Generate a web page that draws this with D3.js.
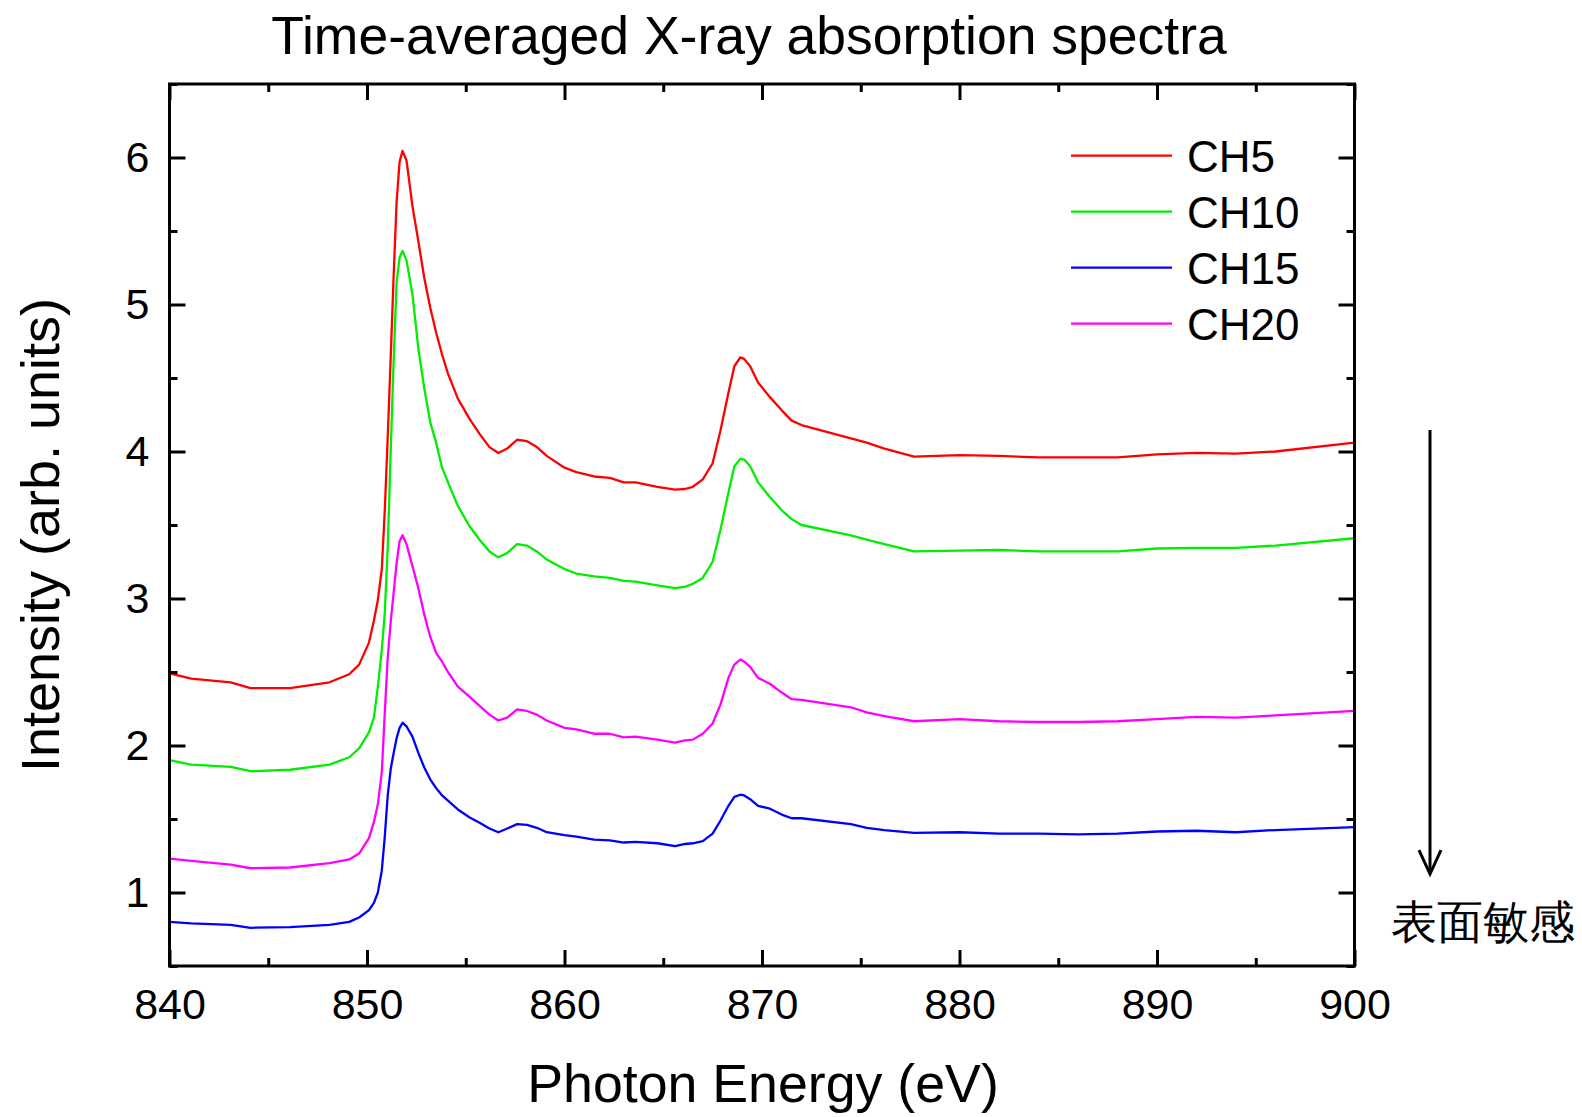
<!DOCTYPE html>
<html>
<head>
<meta charset="utf-8">
<script src="https://cdn.jsdelivr.net/npm/d3@7"></script>
<style>
  html, body { margin: 0; padding: 0; background: #fff; }
  svg { display: block; }
  text { font-family: "Liberation Sans", Arial, sans-serif; fill: #000; }
</style>
</head>
<body>
<svg id="chart" width="1582" height="1117"></svg>
<script>
// ---------------- data ----------------
const energy = [840, 841.1, 843.1, 844.1, 846.1, 848.1, 849.1, 849.6, 850.1, 850.35, 850.55, 850.75, 850.9, 851.05, 851.2, 851.35, 851.5, 851.65, 851.8, 852.0, 852.3, 852.6, 852.9, 853.2, 853.5, 853.8, 854.1, 854.6, 855.2, 855.7, 856.2, 856.65, 857.1, 857.6, 858.1, 858.6, 859.1, 860.0, 860.6, 861.5, 862.3, 863.0, 863.6, 864.7, 865.6, 866.1, 866.5, 867.0, 867.5, 867.9, 868.3, 868.6, 868.9, 869.1, 869.4, 869.8, 870.4, 871.0, 871.5, 872.0, 874.5, 875.3, 876.2, 877.7, 880.0, 882.0, 884.0, 886.0, 888.0, 890.0, 892.0, 894.0, 896.0, 900.0];

const ch5 = [2.49, 2.455, 2.43, 2.39, 2.39, 2.43, 2.485, 2.55, 2.70, 2.85, 2.99, 3.20, 3.60, 4.10, 4.64, 5.20, 5.70, 5.97, 6.045, 5.98, 5.67, 5.43, 5.18, 4.98, 4.81, 4.66, 4.53, 4.36, 4.22, 4.12, 4.03, 3.99, 4.02, 4.08, 4.07, 4.03, 3.97, 3.89, 3.86, 3.83, 3.82, 3.79, 3.79, 3.76, 3.74, 3.745, 3.76, 3.81, 3.92, 4.145, 4.40, 4.58, 4.64, 4.63, 4.58, 4.47, 4.37, 4.28, 4.21, 4.18, 4.09, 4.06, 4.02, 3.965, 3.975, 3.97, 3.96, 3.96, 3.96, 3.98, 3.99, 3.985, 4.00, 4.06];

const ch10 = [1.90, 1.87, 1.855, 1.825, 1.835, 1.87, 1.92, 1.98, 2.09, 2.19, 2.40, 2.65, 2.90, 3.35, 4.00, 4.62, 5.15, 5.32, 5.365, 5.30, 5.07, 4.70, 4.43, 4.20, 4.06, 3.89, 3.79, 3.63, 3.49, 3.40, 3.32, 3.28, 3.31, 3.37, 3.36, 3.32, 3.265, 3.20, 3.17, 3.15, 3.14, 3.12, 3.115, 3.09, 3.07, 3.08, 3.10, 3.14, 3.25, 3.47, 3.72, 3.90, 3.95, 3.945, 3.90, 3.79, 3.69, 3.60, 3.54, 3.50, 3.43, 3.40, 3.37, 3.32, 3.325, 3.33, 3.32, 3.32, 3.32, 3.34, 3.345, 3.345, 3.36, 3.41];

const ch15 = [0.80, 0.79, 0.78, 0.76, 0.765, 0.78, 0.80, 0.83, 0.88, 0.93, 1.00, 1.15, 1.38, 1.66, 1.84, 1.95, 2.05, 2.12, 2.155, 2.13, 2.06, 1.95, 1.85, 1.77, 1.71, 1.66, 1.625, 1.565, 1.51, 1.475, 1.435, 1.41, 1.435, 1.465, 1.46, 1.44, 1.41, 1.39, 1.38, 1.36, 1.355, 1.34, 1.345, 1.335, 1.315, 1.33, 1.335, 1.35, 1.40, 1.49, 1.59, 1.65, 1.665, 1.66, 1.635, 1.59, 1.57, 1.53, 1.505, 1.505, 1.465, 1.44, 1.425, 1.405, 1.41, 1.40, 1.40, 1.395, 1.40, 1.415, 1.42, 1.41, 1.425, 1.445];

const ch20 = [1.23, 1.215, 1.19, 1.165, 1.17, 1.20, 1.225, 1.265, 1.37, 1.48, 1.60, 1.82, 2.22, 2.60, 2.84, 3.04, 3.24, 3.39, 3.43, 3.37, 3.22, 3.07, 2.89, 2.74, 2.63, 2.57, 2.50, 2.40, 2.33, 2.27, 2.21, 2.17, 2.19, 2.245, 2.235, 2.21, 2.17, 2.12, 2.11, 2.08, 2.08, 2.055, 2.06, 2.04, 2.02, 2.035, 2.04, 2.08, 2.15, 2.28, 2.46, 2.55, 2.585, 2.57, 2.535, 2.46, 2.42, 2.36, 2.315, 2.31, 2.26, 2.225, 2.20, 2.165, 2.18, 2.165, 2.16, 2.16, 2.165, 2.18, 2.195, 2.19, 2.205, 2.235];

const seriesNames = ["CH5", "CH10", "CH15", "CH20"];
const seriesColors = ["#ff0000", "#00ee00", "#0000ff", "#ff00ff"];
const seriesValues = [ch5, ch10, ch15, ch20];

const xMajorTicks = [840, 850, 860, 870, 880, 890, 900];
const xMinorTicks = [845, 855, 865, 875, 885, 895];
const yMajorTicks = [1, 2, 3, 4, 5, 6];
const yMinorTicks = [0.5, 1.5, 2.5, 3.5, 4.5, 5.5, 6.5];

const titleText = "Time-averaged X-ray absorption spectra";
const xTitle = "Photon Energy (eV)";
const yTitle = "Intensity (arb. units)";
const noteText = "表面敏感";

// ---------------- layout ----------------
const svg = d3.select("#chart");
const plotLeft = 169.5, plotRight = 1354.5, plotTop = 84, plotBottom = 966;
const x = d3.scaleLinear().domain([840, 900]).range([plotLeft, plotRight]);
const y = d3.scaleLinear().domain([0.5, 6.5]).range([plotBottom, plotTop]);

// curves
const line = d3.line().x(d => x(d[0])).y(d => y(d[1]));
const plot = svg.append("g");
seriesValues.forEach((vals, i) => {
  const pts = energy.map((e, k) => [e, vals[k]]);
  plot.append("path")
    .attr("d", line(pts))
    .attr("fill", "none")
    .attr("stroke", seriesColors[i])
    .attr("stroke-width", 2.3)
    .attr("stroke-linejoin", "round");
});

// axes
function styleAxis(g) {
  g.select(".domain").remove();
  g.selectAll(".tick line").attr("stroke", "#000").attr("stroke-width", 3);
}
const fs = 43;
const ff = "Liberation Sans, Arial, sans-serif";
// bottom
svg.append("g").attr("transform", `translate(0,${plotBottom})`)
  .call(d3.axisBottom(x).tickValues(xMajorTicks).tickSize(-16).tickPadding(22).tickFormat(d3.format("d")))
  .call(styleAxis)
  .call(g => g.selectAll("text").attr("font-size", fs).attr("font-family", ff));
svg.append("g").attr("transform", `translate(0,${plotBottom})`)
  .call(d3.axisBottom(x).tickValues(xMinorTicks).tickSize(-8).tickFormat(""))
  .call(styleAxis);
// top
svg.append("g").attr("transform", `translate(0,${plotTop})`)
  .call(d3.axisTop(x).tickValues(xMajorTicks).tickSize(-16).tickFormat(""))
  .call(styleAxis);
svg.append("g").attr("transform", `translate(0,${plotTop})`)
  .call(d3.axisTop(x).tickValues(xMinorTicks).tickSize(-8).tickFormat(""))
  .call(styleAxis);
// left
svg.append("g").attr("transform", `translate(${plotLeft},0)`)
  .call(d3.axisLeft(y).tickValues(yMajorTicks).tickSize(-16).tickPadding(20).tickFormat(d3.format("d")))
  .call(styleAxis)
  .call(g => g.selectAll("text").attr("font-size", fs).attr("font-family", ff));
svg.append("g").attr("transform", `translate(${plotLeft},0)`)
  .call(d3.axisLeft(y).tickValues(yMinorTicks).tickSize(-8).tickFormat(""))
  .call(styleAxis);
// right
svg.append("g").attr("transform", `translate(${plotRight},0)`)
  .call(d3.axisRight(y).tickValues(yMajorTicks).tickSize(-16).tickFormat(""))
  .call(styleAxis);
svg.append("g").attr("transform", `translate(${plotRight},0)`)
  .call(d3.axisRight(y).tickValues(yMinorTicks).tickSize(-8).tickFormat(""))
  .call(styleAxis);

// frame
svg.append("rect")
  .attr("x", plotLeft).attr("y", plotTop)
  .attr("width", plotRight - plotLeft).attr("height", plotBottom - plotTop)
  .attr("fill", "none").attr("stroke", "#000").attr("stroke-width", 3);

// titles
svg.append("text").attr("x", 749).attr("y", 54)
  .attr("text-anchor", "middle").attr("font-size", 53.5).text(titleText);
svg.append("text").attr("x", 763).attr("y", 1102)
  .attr("text-anchor", "middle").attr("font-size", 53.7).text(xTitle);
svg.append("text")
  .attr("transform", "translate(59,535) rotate(-90)")
  .attr("text-anchor", "middle").attr("font-size", 54).text(yTitle);

// legend
const legend = svg.append("g");
seriesNames.forEach((name, i) => {
  const ly = 155.7 + i * 56;
  legend.append("line")
    .attr("x1", 1071).attr("x2", 1172)
    .attr("y1", ly).attr("y2", ly)
    .attr("stroke", seriesColors[i]).attr("stroke-width", 2.3);
  legend.append("text")
    .attr("x", 1187).attr("y", ly + 16)
    .attr("font-size", 44).text(name);
});

// arrow + note
svg.append("line")
  .attr("x1", 1430).attr("x2", 1430)
  .attr("y1", 430).attr("y2", 874)
  .attr("stroke", "#000").attr("stroke-width", 3);
svg.append("path")
  .attr("d", "M1419,850 L1430,874 L1441,850")
  .attr("fill", "none").attr("stroke", "#000").attr("stroke-width", 3)
  .attr("stroke-linejoin", "miter");
svg.append("text")
  .attr("x", 1483).attr("y", 938)
  .attr("text-anchor", "middle")
  .attr("font-family", "Noto Sans CJK JP, Noto Sans CJK SC, sans-serif")
  .attr("font-size", 46).text(noteText);
</script>
</body>
</html>
